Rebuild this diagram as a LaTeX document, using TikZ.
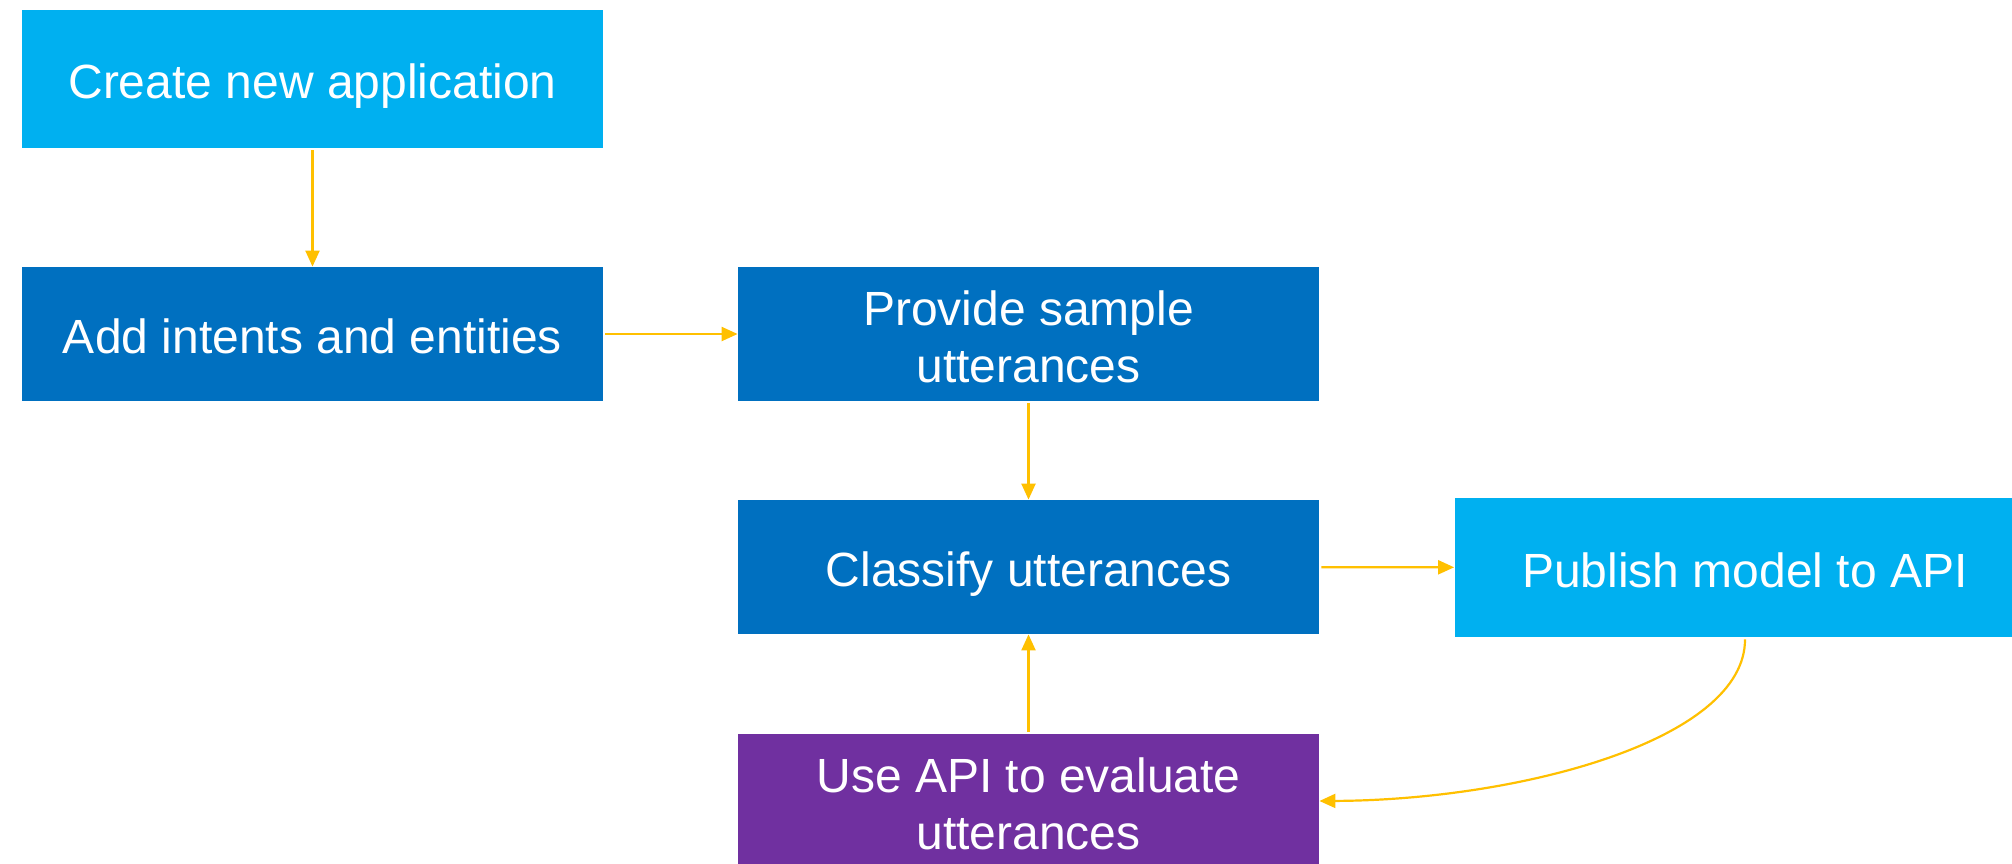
\documentclass[tikz,border=0pt]{standalone}
\usepackage{fontspec}
\setmainfont{Liberation Sans}
\usetikzlibrary{arrows.meta}
\definecolor{lightblue}{HTML}{00B0F0}
\definecolor{darkblue}{HTML}{0070C0}
\definecolor{purp}{HTML}{7030A0}
\definecolor{arrowyellow}{HTML}{FFC000}
\begin{document}
\begin{tikzpicture}[x=0.5pt,y=-0.5pt,
 box/.style={rectangle, inner sep=0pt, minimum width=290.5pt, minimum height=67pt, text=white, font=\fontsize{24}{28.5}\selectfont, align=center},
 oneline/.style={text height=24.5pt, text depth=5pt},
 twoline/.style={text height=53pt, text depth=5pt},
 flow/.style={draw=arrowyellow, line width=1.1pt, shorten <=1pt, -{Triangle[length=8pt,width=7pt]}}]
\useasboundingbox (0,0) rectangle (2012,863);
\clip (0,0) rectangle (2012,863);
\fill[white] (0,0) rectangle (2012,863);
\node[box, oneline, fill=lightblue, minimum height=69pt] (create) at (312.5,79) {Create new application};
\node[box, oneline, fill=darkblue] (add) at (312.5,334) {Add intents and entities};
\node[box, twoline, fill=darkblue] (provide) at (1028.5,334) {Provide sample\\utterances};
\node[box, oneline, fill=darkblue] (classify) at (1028.5,567) {Classify utterances};
\node[box, oneline, fill=lightblue, minimum height=69.5pt] (publish) at (1745,567.5) {Publish model to API};
\node[box, twoline, fill=purp] (use) at (1028.5,801) {Use API to evaluate\\utterances};
\draw[flow] (create) -- (add);
\draw[flow] (add) -- (provide);
\draw[flow] (provide) -- (classify);
\draw[flow] (classify) -- (publish);
\draw[flow] (use) -- (classify);
\draw[flow] (publish.south) .. controls (1745,740) and (1520,800) .. (use.east);
\end{tikzpicture}
\end{document}
